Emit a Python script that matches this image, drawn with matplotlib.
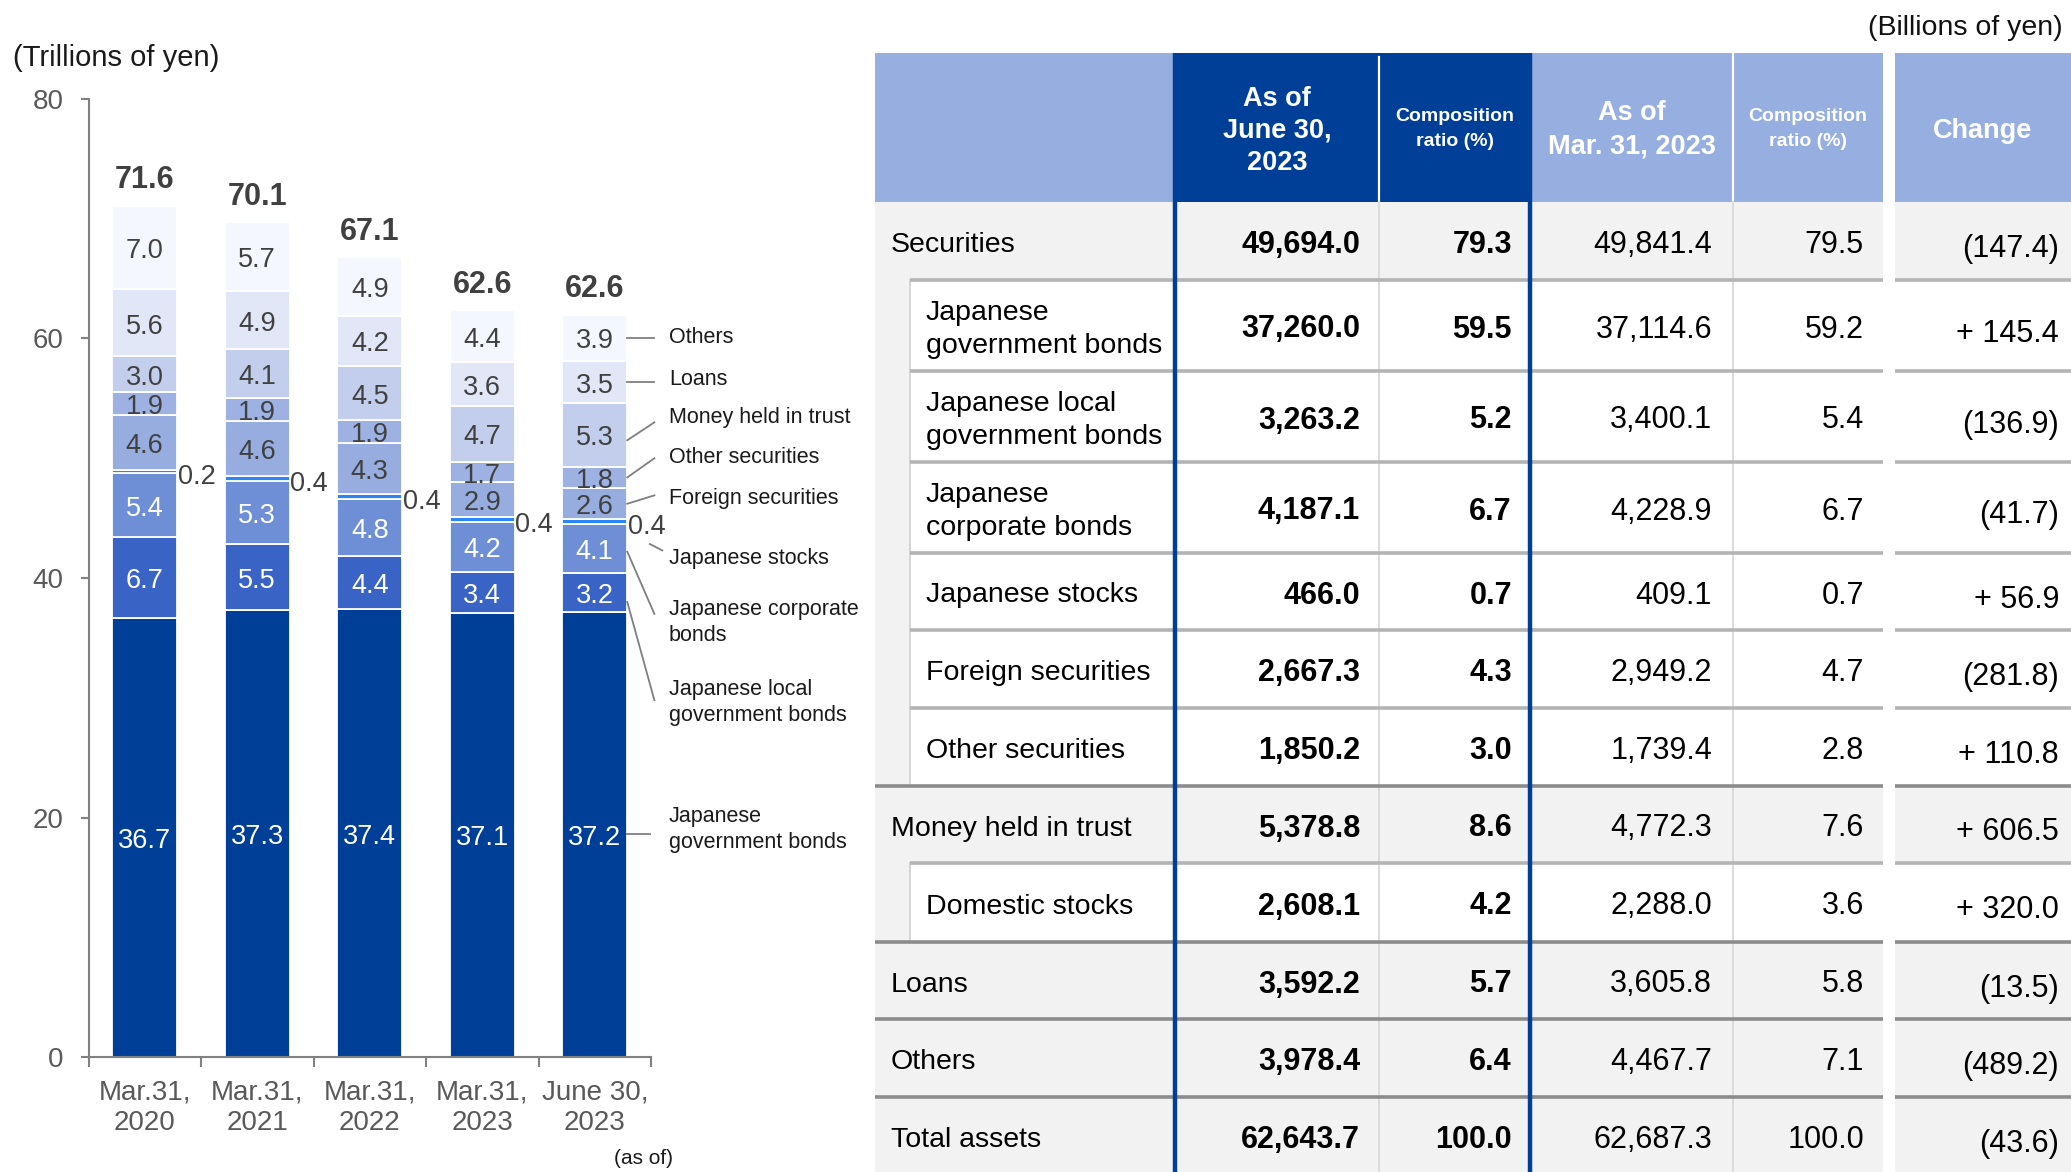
import matplotlib
matplotlib.use("Agg")
import matplotlib.pyplot as plt
from matplotlib.patches import Rectangle

plt.rcParams['font.family'] = ['Liberation Sans', 'DejaVu Sans']

W, H = 2071, 1172

# ---------------- chart data (trillions of yen) ----------------
categories = ["Mar.31,\n2020", "Mar.31,\n2021", "Mar.31,\n2022", "Mar.31,\n2023", "June 30,\n2023"]
totals = [71.6, 70.1, 67.1, 62.6, 62.6]
jgb = [36.7, 37.3, 37.4, 37.1, 37.2]
local_bonds = [6.7, 5.5, 4.4, 3.4, 3.2]
corporate_bonds = [5.4, 5.3, 4.8, 4.2, 4.1]
jp_stocks = [0.2, 0.4, 0.4, 0.4, 0.4]
foreign_sec = [4.6, 4.6, 4.3, 2.9, 2.6]
other_sec = [1.9, 1.9, 1.9, 1.7, 1.8]
money_trust = [3.0, 4.1, 4.5, 4.7, 5.3]
loans = [5.6, 4.9, 4.2, 3.6, 3.5]
others = [7.0, 5.7, 4.9, 4.4, 3.9]

series_names = ["Japanese\ngovernment bonds", "Japanese local\ngovernment bonds",
                "Japanese corporate\nbonds", "Japanese stocks", "Foreign securities",
                "Other securities", "Money held in trust", "Loans", "Others"]

# ---------------- table data (billions of yen) ----------------
row_labels = ["Securities", "Japanese\ngovernment bonds", "Japanese local\ngovernment bonds",
              "Japanese\ncorporate bonds", "Japanese stocks", "Foreign securities",
              "Other securities", "Money held in trust", "Domestic stocks", "Loans",
              "Others", "Total assets"]
row_level = [0, 1, 1, 1, 1, 1, 1, 0, 1, 0, 0, 0]
jun_amount = [49694.0, 37260.0, 3263.2, 4187.1, 466.0, 2667.3, 1850.2, 5378.8, 2608.1,
              3592.2, 3978.4, 62643.7]
jun_ratio = [79.3, 59.5, 5.2, 6.7, 0.7, 4.3, 3.0, 8.6, 4.2, 5.7, 6.4, 100.0]
mar_amount = [49841.4, 37114.6, 3400.1, 4228.9, 409.1, 2949.2, 1739.4, 4772.3, 2288.0,
              3605.8, 4467.7, 62687.3]
mar_ratio = [79.5, 59.2, 5.4, 6.7, 0.7, 4.7, 2.8, 7.6, 3.6, 5.8, 7.1, 100.0]
change = [-147.4, 145.4, -136.9, -41.7, 56.9, -281.8, 110.8, 606.5, 320.0, -13.5, -489.2, -43.6]

NAVY = "#003F98"
LIGHT = "#97AEE0"

fig = plt.figure(figsize=(W / 100, H / 100), dpi=100)

# ---------------- table (pixel coordinates) ----------------
tab = fig.add_axes([0, 0, 1, 1])
tab.set_xlim(0, W)
tab.set_ylim(H, 0)
tab.axis('off')

x_left, x_c1, x_c2, x_c3, x_c4, x_gap0, x_gap1, x_right = 875, 1175, 1379, 1530, 1733, 1883, 1895, W
x_indent = 910
head_top, head_bot = 53, 202
row_edges = [202, 280, 371, 462, 553, 630, 708, 786, 863, 942, 1019, 1097, 1175]

# header
tab.add_patch(Rectangle((x_left, head_top), x_gap0 - x_left, head_bot - head_top, color=LIGHT, lw=0))
tab.add_patch(Rectangle((x_gap1, head_top), x_right - x_gap1, head_bot - head_top, color=LIGHT, lw=0))
tab.add_patch(Rectangle((x_c1, head_top), x_c3 - x_c1, head_bot - head_top, color=NAVY, lw=0))
tab.plot([x_c2, x_c2], [head_top + 4, head_bot], color="white", lw=1.6)
tab.plot([x_c4, x_c4], [head_top, head_bot], color="white", lw=1.6)

hdr = dict(color="white", fontweight="bold", ha="center", va="center")
tab.text((x_c1 + x_c2) / 2, 131, "As of\nJune 30,\n2023", fontsize=19.5, linespacing=1.28, **hdr)
tab.text((x_c2 + x_c3) / 2, 129, "Composition\nratio (%)", fontsize=14, linespacing=1.6, **hdr)
tab.text((x_c3 + x_c4) / 2, 130, "As of\nMar. 31, 2023", fontsize=19.5, linespacing=1.35, **hdr)
tab.text((x_c4 + x_gap0) / 2, 129, "Composition\nratio (%)", fontsize=14, linespacing=1.6, **hdr)
tab.text((x_gap1 + x_right) / 2, 131, "Change", fontsize=19.5, **hdr)


def fmt_change(v):
    return f"({abs(v):,.1f})" if v < 0 else f"+ {v:,.1f}"


for i, label in enumerate(row_labels):
    top, bot = row_edges[i], row_edges[i + 1]
    mid = (top + bot) / 2 + 4
    lvl = row_level[i]
    if lvl == 0:
        tab.add_patch(Rectangle((x_left, top), x_right - x_left, bot - top, color="#F2F2F2", lw=0))
    else:
        tab.add_patch(Rectangle((x_left, top), x_indent - x_left, bot - top, color="#F2F2F2", lw=0))
        tab.add_patch(Rectangle((x_indent, top), x_right - x_indent, bot - top, color="white", lw=0))
        tab.plot([x_indent, x_indent], [top, bot], color="#D0D0D0", lw=1.2)
    # white gap before the change column
    tab.add_patch(Rectangle((x_gap0, top - 3), x_gap1 - x_gap0, bot - top + 3, color="white", lw=0, zorder=3))
    # thin column dividers
    for xv in (x_c2, x_c4):
        tab.plot([xv, xv], [top, bot], color="#D9D9D9", lw=1.3, zorder=2)
    # separator above the row
    if i > 0:
        x0 = x_left if lvl == 0 else x_indent
        col = "#8C8C8C" if lvl == 0 else "#B4B4B4"
        tab.plot([x0, x_gap0], [top, top], color=col, lw=2.6, solid_capstyle="butt", zorder=2)
        tab.plot([x_gap1, x_right], [top, top], color=col, lw=2.6, solid_capstyle="butt", zorder=2)

    tx = 891 if lvl == 0 else 926
    tab.text(tx, mid, label, fontsize=20.5, ha="left", va="center", color="black", linespacing=1.32)
    tab.text(1360, mid, f"{jun_amount[i]:,.1f}", fontsize=22, fontweight="bold", ha="right", va="center")
    tab.text(1512, mid, f"{jun_ratio[i]:.1f}", fontsize=22, fontweight="bold", ha="right", va="center")
    tab.text(1712, mid, f"{mar_amount[i]:,.1f}", fontsize=22, ha="right", va="center")
    tab.text(1864, mid, f"{mar_ratio[i]:.1f}", fontsize=22, ha="right", va="center")
    tab.text(2059, mid + 4, fmt_change(change[i]), fontsize=22, ha="right", va="center", zorder=4)

# navy frame around the current-period columns
for xv in (x_c1, x_c3):
    tab.plot([xv, xv], [head_top, H], color=NAVY, lw=3.2, solid_capstyle="butt", zorder=5)

fig.text(2063 / W, 1 - 28 / H, "(Billions of yen)", fontsize=20.5, ha="right", va="center", color="#111111")

# ---------------- stacked bar chart ----------------
ax = fig.add_axes([88.5 / W, 1 - 1057 / H, (651 - 88.5) / W, (1057 - 99) / H])

series = [jgb, local_bonds, corporate_bonds, jp_stocks, foreign_sec, other_sec, money_trust, loans, others]
colors = [NAVY, "#3A63C6", "#6E8FD6", "#2A86F7", "#97ADE0", "#9DB1E2", "#C2CEEC", "#E1E7F6", "#F4F7FE"]
text_cols = ["white", "white", "white", None, "#404040", "#404040", "#404040", "#404040", "#404040"]
bw = 0.578
x = list(range(len(categories)))

bottoms = [0.0] * len(categories)
mids = []
for vals, c, tc in zip(series, colors, text_cols):
    ax.bar(x, vals, bw, bottom=bottoms, color=c, edgecolor="white", linewidth=1.3, zorder=2)
    seg_mid = []
    for j, v in enumerate(vals):
        m = bottoms[j] + v / 2
        seg_mid.append(m)
        if tc is None:
            ax.text(j + bw / 2 + 0.005, m - 0.45, f"{v:.1f}", ha="left", va="center",
                    fontsize=19.5, color="#404040", zorder=3)
        else:
            ax.text(j, m - 0.3, f"{v:.1f}", ha="center", va="center", fontsize=19.5, color=tc, zorder=3)
    mids.append(seg_mid)
    bottoms = [b + v for b, v in zip(bottoms, vals)]

for j, t in enumerate(totals):
    ax.text(j, bottoms[j] + 2.1, f"{t:.1f}", ha="center", va="center", fontsize=22,
            fontweight="bold", color="#404040")

ax.set_xlim(-0.5, 4.5)
ax.set_ylim(0, 80)
ax.set_yticks([0, 20, 40, 60, 80])
ax.set_xticks(x)
ax.set_xticklabels(categories, fontsize=20, color="#595959", linespacing=1.25)
ax.set_xticks([k - 0.5 for k in range(len(categories) + 1)], minor=True)
ax.tick_params(axis="x", which="major", length=0, pad=16)
ax.tick_params(axis="x", which="minor", length=7, width=1.5, color="#808080", direction="out")
ax.tick_params(axis="y", length=6, width=1.5, color="#808080", pad=12, labelsize=20, labelcolor="#595959")
for s in ("top", "right"):
    ax.spines[s].set_visible(False)
for s in ("left", "bottom"):
    ax.spines[s].set_color("#808080")
    ax.spines[s].set_linewidth(1.5)

# leader lines from the last bar to the series names
last = 4
edge = last + bw / 2
m = [mids[k][last] for k in range(len(series))]
leaders = [
    # (start y, end x, end y, text y)
    (m[0], 4.49, m[0], 19.0),
    (38.0, 4.53, 29.8, 29.6),
    (42.2, 4.53, 37.0, 36.3),
    (None, None, None, 41.6),
    (m[4], 4.53, 46.9, 46.6),
    (m[5], 4.53, 50.0, 50.1),
    (51.5, 4.53, 53.0, 53.4),
    (m[7], 4.53, m[7], 56.6),
    (m[8], 4.53, m[8], 60.1),
]
for name, (y0, x1, y1, ty) in zip(series_names, leaders):
    if y0 is not None:
        ax.plot([edge, x1], [y0, y1], color="#7F7F7F", lw=1.3, clip_on=False)
    ax.text(4.66, ty, name, ha="left", va="center", fontsize=15.5, color="#1A1A1A",
            linespacing=1.3, clip_on=False)
# short tick under the Japanese stocks value
ax.plot([4.49, 4.60], [42.84, 42.3], color="#7F7F7F", lw=1.3, clip_on=False)

fig.text(13 / W, 1 - 58 / H, "(Trillions of yen)", fontsize=21, ha="left", va="center", color="#1A1A1A")
fig.text(644 / W, 1 - 1158 / H, "(as of)", fontsize=15, ha="center", va="center", color="#1A1A1A")

fig.savefig("out.png", dpi=100)
